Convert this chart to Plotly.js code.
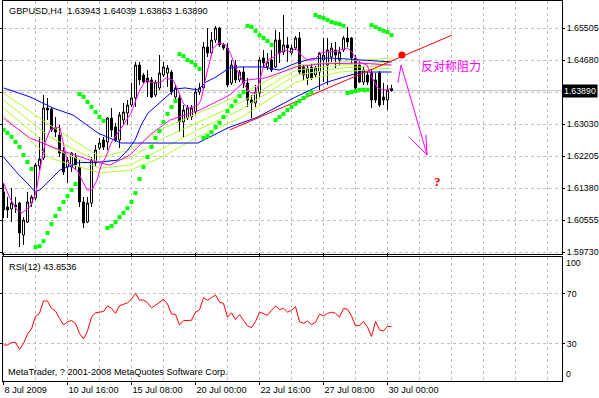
<!DOCTYPE html>
<html><head><meta charset="utf-8">
<script src="https://cdn.plot.ly/plotly-3.0.1.min.js"></script>
<style>html,body{margin:0;padding:0;background:#fff;}#chart{width:599px;height:398px;}</style>
</head><body><div id="chart"></div>
<script>
// ---- data ----
const titleText = "GBPUSD,H4&nbsp; 1.63943 1.64039 1.63863 1.63890";
const rsiLabel = "RSI(12) 43.8536";
const copyText = "MetaTrader, ? 2001-2008 MetaQuotes Software Corp.";
const lastPrice = 1.63890;

const openP = [1.61277,1.60890,1.60839,1.60942,1.60993,1.60169,1.60504,1.60993,1.61122,1.61947,
1.62154,1.63443,1.63417,1.62927,1.62747,1.62308,1.61922,1.61922,1.62179,1.61922,
1.61019,1.60504,1.60993,1.62025,1.62411,1.62618,1.62566,1.63185,1.62953,1.62618,
1.63133,1.63314,1.63520,1.63700,1.64551,1.64293,1.64216,1.64165,1.63778,1.63958,
1.64293,1.64345,1.64371,1.63726,1.63700,1.63082,1.63185,1.63211,1.63340,1.63855,
1.63958,1.65015,1.64861,1.65196,1.65505,1.65067,1.64990,1.64087,1.64551,1.64165,
1.64371,1.64087,1.63649,1.63572,1.63829,1.64732,1.64500,1.64680,1.64500,1.65196,
1.64886,1.65067,1.64861,1.64990,1.65247,1.64500,1.64216,1.64500,1.64293,1.64371,
1.64680,1.64551,1.64757,1.64938,1.64680,1.64938,1.65247,1.65247,1.64732,1.64551,
1.64113,1.64293,1.64345,1.64165,1.64345,1.63726,1.63649,1.63943];
const highP = [1.61509,1.61148,1.61380,1.61148,1.61019,1.60633,1.61277,1.61200,1.62025,1.62695,
1.63778,1.63700,1.63468,1.63211,1.63004,1.62437,1.62179,1.62308,1.62283,1.62102,
1.61148,1.61148,1.62179,1.62489,1.62669,1.62695,1.63211,1.63443,1.63056,1.63340,
1.63572,1.63649,1.64087,1.64629,1.64629,1.64345,1.64422,1.64242,1.64165,1.64809,
1.64629,1.64551,1.64422,1.64036,1.63778,1.63520,1.63520,1.63520,1.63958,1.64087,
1.65144,1.65505,1.65402,1.65557,1.65531,1.65118,1.65118,1.64680,1.64680,1.64422,
1.64500,1.64216,1.63778,1.64036,1.64757,1.64938,1.64861,1.64938,1.65454,1.65402,
1.65840,1.65273,1.65067,1.65299,1.65402,1.64551,1.64551,1.64577,1.64526,1.64886,
1.65247,1.65247,1.65118,1.65144,1.65015,1.65299,1.65531,1.65273,1.64809,1.64629,
1.64500,1.64371,1.64422,1.64345,1.64397,1.64087,1.64036,1.64039];
const lowP = [1.60607,1.60607,1.60504,1.60736,1.59859,1.59911,1.60478,1.60890,1.61071,1.61844,
1.62102,1.63133,1.62824,1.62695,1.62179,1.61715,1.61509,1.61793,1.61844,1.60890,
1.60349,1.60478,1.60890,1.61922,1.62360,1.62360,1.62360,1.62695,1.62566,1.62411,
1.63004,1.63004,1.63468,1.63468,1.64036,1.64087,1.63726,1.63700,1.63726,1.63907,
1.64242,1.63984,1.63778,1.63675,1.62824,1.62669,1.63133,1.63133,1.63262,1.63778,
1.63907,1.64757,1.64809,1.65118,1.65015,1.64938,1.63984,1.64036,1.64087,1.64113,
1.63958,1.63468,1.63185,1.63468,1.63726,1.64474,1.64422,1.64371,1.64474,1.64603,
1.64809,1.64629,1.64809,1.64938,1.64293,1.64165,1.64036,1.64165,1.64216,1.63907,
1.64113,1.64036,1.64629,1.64474,1.64551,1.64886,1.65015,1.64603,1.63907,1.64087,
1.64036,1.64036,1.63443,1.63572,1.63468,1.63520,1.63391,1.63863];
const closeP = [1.60813,1.60813,1.60993,1.60890,1.60220,1.60555,1.61019,1.61148,1.61973,1.62128,
1.63443,1.63391,1.62875,1.62824,1.62283,1.61793,1.62102,1.62283,1.61973,1.61019,
1.60478,1.60993,1.62102,1.62360,1.62540,1.62437,1.63185,1.62875,1.62618,1.63262,
1.63340,1.63520,1.63700,1.64551,1.64165,1.64113,1.64113,1.63726,1.64113,1.64345,
1.64500,1.64474,1.63855,1.63958,1.63082,1.63391,1.63443,1.63443,1.63855,1.63958,
1.65015,1.64861,1.65196,1.65505,1.65067,1.64990,1.64036,1.64551,1.64165,1.64371,
1.64087,1.63649,1.63572,1.63855,1.64680,1.64603,1.64629,1.64422,1.65196,1.64861,
1.65067,1.64990,1.64990,1.65247,1.64371,1.64293,1.64474,1.64216,1.64474,1.64861,
1.64809,1.64938,1.64990,1.64809,1.64886,1.65247,1.65144,1.64732,1.63958,1.64113,
1.64422,1.64113,1.63649,1.63649,1.63520,1.63649,1.63907,1.63890];
const sarP = [1.6288,1.6280,1.6270,1.6257,1.6244,1.6223,1.6205,1.6187,1.5986,1.5988,
1.6001,1.6022,1.6045,1.6066,1.6084,1.6102,1.6117,1.6133,1.6148,1.6380,
1.6373,1.6360,1.6347,1.6334,1.6321,1.6311,1.6035,1.6040,1.6050,1.6063,
1.6074,1.6086,1.6102,1.6125,1.6161,1.6192,1.6218,1.6244,1.6267,1.6285,
1.6308,1.6329,1.6347,1.6362,1.6483,1.6478,1.6468,1.6463,1.6455,1.6445,
1.6267,1.6272,1.6282,1.6295,1.6306,1.6321,1.6336,1.6349,1.6362,1.6375,
1.6385,1.6556,1.6553,1.6543,1.6532,1.6525,1.6517,1.6507,1.6313,1.6321,
1.6329,1.6339,1.6347,1.6355,1.6362,1.6370,1.6378,1.6385,1.6584,1.6579,
1.6576,1.6571,1.6566,1.6563,1.6561,1.6556,1.6383,1.6385,1.6388,1.6391,
1.6391,1.6391,1.6558,1.6553,1.6548,1.6543,1.6540,1.6532];
const rsiV = [29.2,29.2,31.3,31.3,25.7,30.4,38,42,52,54.5,
64.5,64.4,58.5,56.4,50.5,45.2,47.9,48.7,46.5,38.5,
34,40.4,51.5,55,55.5,56,60.5,58.5,54.5,60.7,
61.7,63,66,70.5,65,65.2,63,59,61,63.5,
65.7,62,54,53.7,45.2,48.7,48.7,49,55.5,57.2,
67,65,67,69.2,63.5,62.3,51.5,55,49.5,53.5,
49,44.5,43.1,48,55.5,54.5,53,57,60.5,57.5,
58.5,55.5,57,59.8,47.9,46.5,48.4,45.5,47.3,53.9,
52.4,54.5,55.5,54.5,51.5,58.5,57.8,52.5,44.5,45,
48,43.5,36,48,41.2,40.4,44.2,43.85];

// moving averages, sampled (bar position, price)
const magFastX = [0,1.6,3.4,4.6,6.6,8.1,9.1,10.4,11.6,13.4,14.1,14.6,15.9,17.1,18.4,19.6,20.9,22.1,23.4,24.4,25.6,26.9,28.6,30.4,31.9,33.1,34.1,35.6,36.9,38.1,39.4,40.6,42.4,43.6,44.9,46.1,47.4,48.6,49.4,50.6,52.4,53.9,55.6,56.9,58.1,59.4,60.6,61.9,62.9,63.6,64.9,66.1,67.6,68.9,70.1,71.9,73.1,74.4,75.9,77.6,79.4,80.9,82.6,84.4,85.9,87.1,88.4,89.6,90.9,92.1,93.4,94.6,95.9,97];
const magFastY = [1.6151,1.6112,1.6081,1.6074,1.6089,1.6125,1.6184,1.6254,1.6288,1.6295,1.6293,1.6270,1.6210,1.6192,1.6184,1.6159,1.6133,1.6133,1.6159,1.6197,1.6218,1.6254,1.6280,1.6306,1.6331,1.6365,1.6391,1.6416,1.6411,1.6409,1.6411,1.6422,1.6416,1.6391,1.6357,1.6344,1.6347,1.6352,1.6365,1.6424,1.6499,1.6512,1.6507,1.6481,1.6447,1.6422,1.6398,1.6383,1.6383,1.6398,1.6447,1.6468,1.6476,1.6486,1.6494,1.6489,1.6499,1.6481,1.6468,1.6468,1.6486,1.6489,1.6489,1.6494,1.6499,1.6489,1.6468,1.6460,1.6455,1.6424,1.6398,1.6391,1.6391,1.6396];
const magSlowX = [0,6.6,14.1,21.6,26.6,31.6,36.6,41.6,49.1,56.6,60.6,65.6,73.1,79.1,89.1,97];
const magSlowY = [1.6318,1.6267,1.6236,1.6210,1.6197,1.6223,1.6275,1.6313,1.6339,1.6378,1.6416,1.6422,1.6450,1.6458,1.6460,1.6455];
const blueSlowX = [0,6.6,12.4,17.4,23.6,29.4,39.1,48.6,56.1,63.6,73.1,76.9,80.9,85.1,89.4,97];
const blueSlowY = [1.6396,1.6373,1.6344,1.6326,1.6280,1.6254,1.6254,1.6254,1.6293,1.6321,1.6373,1.6391,1.6411,1.6424,1.6437,1.6437];
const blueFastX = [0,3.4,5.9,7.9,9.1,11.6,14.1,18.4,24.1,28.6,31.1,32.9,34.4,36.1,37.9,40.4,42.9,45.4,48.6,50.6,53.1,56.4,58.9,62.4,64.9,68.9,73.1,76.9,80.9,85.1,89.4,97];
const blueFastY = [1.6218,1.6177,1.6151,1.6128,1.6133,1.6159,1.6184,1.6203,1.6205,1.6210,1.6236,1.6262,1.6300,1.6331,1.6347,1.6370,1.6393,1.6396,1.6391,1.6411,1.6424,1.6447,1.6450,1.6450,1.6450,1.6442,1.6460,1.6471,1.6473,1.6471,1.6468,1.6463];
const ygX = [0,11.6,24.1,31.6,39.1,48.6,59.1,73.1,84.1,97];
const yg1 = [1.6383,1.6300,1.6218,1.6236,1.6288,1.6331,1.6378,1.6455,1.6463,1.6473];
const yg2 = [1.6365,1.6270,1.6203,1.6215,1.6262,1.6308,1.6357,1.6442,1.6455,1.6463];
const yg3 = [1.6344,1.6244,1.6189,1.6197,1.6236,1.6288,1.6339,1.6429,1.6447,1.6455];
const yg4 = [1.6324,1.6215,1.6177,1.6184,1.6215,1.6270,1.6318,1.6411,1.6437,1.6447];

// drawn objects
const trendX = [56.6,112.1], trendY = [1.6288,1.6532];
const dotX = [99.6], dotY = [1.6481];
const arrowX = [98.6,99.4,105.9], arrowY = [1.6409,1.6455,1.6223];
const headX = [101.6,105.9,105.6], headY = [1.6267,1.6223,1.6275];
const noteText = "反对称阻力", noteX = 111.9, noteY = 1.6455;
const qText = "?", qX = 108.4, qY = 1.6156;

const xTickVals = [0,16,32,48,64,80,96];
const xTickText = ["8 Jul 2009","10 Jul 16:00","15 Jul 08:00","20 Jul 00:00","22 Jul 16:00","27 Jul 08:00","30 Jul 00:00"];
const yTickVals = [1.59730,1.60555,1.61380,1.62205,1.63030,1.63855,1.64680,1.65505];
const yTickText = ["1.59730","1.60555","1.61380","1.62205","1.63030","","1.64680","1.65505"];

// ---- figure ----
const idx = openP.map((_, i) => i);
const ln = (x, y, c, ax) => ({type:'scatter', mode:'lines', x:x, y:y, xaxis:'x', yaxis:ax||'y',
  line:{color:c, width:1}, hoverinfo:'skip'});

const traces = [
  {type:'candlestick', x:idx, open:openP, high:highP, low:lowP, close:closeP, xaxis:'x', yaxis:'y',
   increasing:{line:{color:'#000', width:1}, fillcolor:'#fff'},
   decreasing:{line:{color:'#000', width:1}, fillcolor:'#000'}, hoverinfo:'skip'},
  ln(ygX, yg4, '#ADFF2F'), ln(ygX, yg3, '#ADFF2F'), ln(ygX, yg2, '#ADFF2F'), ln(ygX, yg1, '#ADFF2F'),
  ln(blueSlowX, blueSlowY, '#0000FF'), ln(blueFastX, blueFastY, '#0000FF'),
  ln(magSlowX, magSlowY, '#FF00FF'), ln(magFastX, magFastY, '#FF00FF'),
  ln(trendX, trendY, '#FF0000'),
  {type:'scatter', mode:'markers', x:dotX, y:dotY, marker:{color:'#FF0000', size:7}, hoverinfo:'skip'},
  ln(arrowX, arrowY, '#FF00FF'), ln(headX, headY, '#FF00FF'),
  {type:'scatter', mode:'markers', x:idx, y:sarP, marker:{color:'#00FF00', size:4, symbol:'square'}, hoverinfo:'skip'},
  ln(idx, rsiV, '#FF0000', 'y2')
];

const FS = 9.2;
const grid = {showgrid:true, gridcolor:'#C0C0C0', griddash:'3px,3px', gridwidth:1};
const layout = {
  width:599, height:398, margin:{l:3, r:37, t:1, b:17},
  paper_bgcolor:'#fff', plot_bgcolor:'#fff', showlegend:false,
  font:{family:'Liberation Sans, Arial, sans-serif', size:FS, color:'#000'},
  xaxis:Object.assign({range:[-0.125,139.625], anchor:'y2', tickmode:'array', tickvals:xTickVals, ticktext:xTickText,
    ticks:'outside', ticklen:3, tickcolor:'#000', ticklabelposition:'outside right', tickfont:{size:FS},
    minor:{tick0:0, dtick:8, showgrid:true, gridcolor:'#C0C0C0', griddash:'3px,3px', ticks:''},
    showline:true, linecolor:'#000', linewidth:1, mirror:'all', zeroline:false,
    rangeslider:{visible:false}, fixedrange:true}, grid),
  yaxis:Object.assign({domain:[0.33421,1], range:[1.59679,1.66201], side:'right', anchor:'x',
    tickmode:'array', tickvals:yTickVals, ticktext:yTickText, ticks:'outside', ticklen:2, tickcolor:'#000',
    tickfont:{size:8.8},
    showline:true, linecolor:'#000', linewidth:1, mirror:'all', zeroline:false, fixedrange:true}, grid),
  yaxis2:Object.assign({domain:[0,0.32632], range:[0.4,99.6], side:'right', anchor:'x',
    tickmode:'array', tickvals:[30,70], ticktext:['30','70'], ticks:'outside', ticklen:2, tickcolor:'#000',
    tickfont:{size:8.8},
    showline:true, linecolor:'#000', linewidth:1, mirror:'all', zeroline:false, fixedrange:true}, grid),
  shapes:[
    {type:'line', xref:'paper', x0:0, x1:1, yref:'y', y0:lastPrice, y1:lastPrice, layer:'between',
     line:{color:'#C0C0C0', width:1}}
  ],
  annotations:[
    {text:titleText, xref:'paper', yref:'paper', x:0.0072, y:0.9737, xanchor:'left', yanchor:'middle', showarrow:false, font:{size:FS}},
    {text:rsiLabel, xref:'paper', yref:'paper', x:0.0072, y:0.30, xanchor:'left', yanchor:'middle', showarrow:false, font:{size:FS}},
    {text:copyText, xref:'paper', yref:'paper', x:0.0054, y:0.0237, xanchor:'left', yanchor:'middle', showarrow:false, font:{size:FS}},
    {text:'100', xref:'paper', yref:'paper', x:1, xshift:2, y:0.3105, xanchor:'left', yanchor:'middle', showarrow:false, font:{size:8.8}},
    {text:'0', xref:'paper', yref:'paper', x:1, xshift:2, y:0.0184, xanchor:'left', yanchor:'middle', showarrow:false, font:{size:8.8}},
    {text:lastPrice.toFixed(5), xref:'paper', yref:'y', x:1, xshift:0, y:lastPrice, xanchor:'left', yanchor:'middle',
     showarrow:false, bgcolor:'#000', borderpad:1, font:{size:8.8, color:'#fff'}},
    {text:noteText, xref:'x', yref:'y', x:noteX, y:noteY, showarrow:false, xanchor:'center', yanchor:'middle',
     font:{family:'Noto Sans CJK SC', size:12, color:'#FF00FF'}},
    {text:'<b>'+qText+'</b>', xref:'x', yref:'y', x:qX, y:qY, showarrow:false, xanchor:'center', yanchor:'middle',
     font:{family:'Liberation Serif, serif', size:13, color:'#FF0000'}}
  ]
};
Plotly.newPlot('chart', traces, layout, {displayModeBar:false, staticPlot:true});
</script></body></html>
